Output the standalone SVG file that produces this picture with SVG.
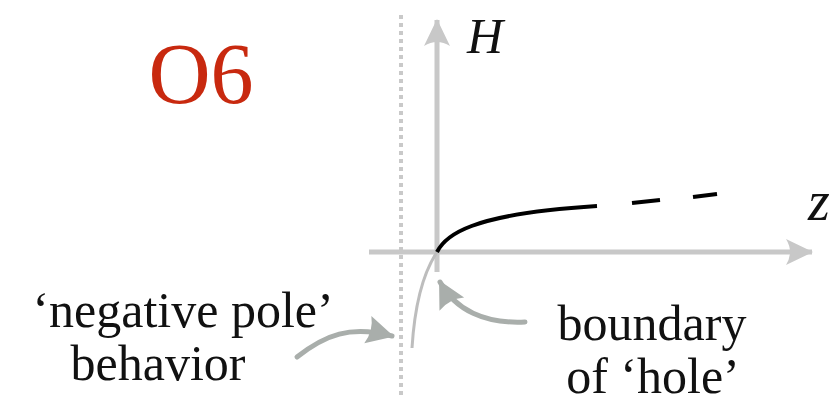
<svg xmlns="http://www.w3.org/2000/svg" width="837" height="403" viewBox="0 0 837 403">
<style>
.txt{font-family:"Liberation Serif","Times New Roman",serif;fill:#111}
.ax{stroke:#c8c8c8;stroke-width:5;fill:none}
.lbl{stroke:#a9aeab;stroke-width:5;fill:none;stroke-linecap:round}
</style>
<defs>
<marker id="axhead" markerUnits="userSpaceOnUse" markerWidth="40" markerHeight="40" refX="0" refY="0" orient="auto" overflow="visible">
<path d="M1,0 L-26,-13 Q-18,0 -26,13 Z" fill="#c8c8c8"/>
</marker>
<marker id="lhead" markerUnits="userSpaceOnUse" markerWidth="40" markerHeight="40" refX="0" refY="0" orient="auto" overflow="visible">
<path d="M2,0 L-25,-14 Q-19,0 -25,14 Z" fill="#a9aeab"/>
</marker>
</defs>
<g id="title"><text class="txt" x="201" y="103" font-size="86" text-anchor="middle" style="fill:#c8290f">O6</text></g>
<g id="axes">
<line x1="401" y1="15" x2="401" y2="395" stroke="#c9c9c9" stroke-width="4" stroke-dasharray="4 4"/>
<line class="ax" x1="437" y1="272" x2="437" y2="20" marker-end="url(#axhead)"/>
<line class="ax" x1="369" y1="252" x2="812" y2="252" marker-end="url(#axhead)"/>
<text class="txt" x="467" y="53" font-size="50" font-style="italic">H</text>
<text class="txt" x="808" y="220" font-size="56" font-style="italic">z</text>
</g>
<g id="curves">
<path d="M437,252 C425,270 415,300 412,348" stroke="#bdbdbd" stroke-width="3" fill="none"/>
<path d="M437,252 C445,236 468,214 597,206" stroke="#000" stroke-width="4" fill="none"/>
<line x1="632" y1="203" x2="660" y2="200" stroke="#000" stroke-width="4"/>
<line x1="693" y1="197" x2="717" y2="194" stroke="#000" stroke-width="4"/>
</g>
<g id="connectors">
<path class="lbl" d="M525,322 C485,324 455,310 440,282" marker-end="url(#lhead)"/>
<path class="lbl" d="M297,357 C325,335 350,325 392,336" marker-end="url(#lhead)"/>
</g>
<g id="label-negative">
<text class="txt" x="183" y="327" font-size="50" text-anchor="middle">‘negative pole’</text>
<text class="txt" x="158" y="380" font-size="50" text-anchor="middle">behavior</text>
</g>
<g id="label-boundary">
<text class="txt" x="652" y="340" font-size="50" text-anchor="middle">boundary</text>
<text class="txt" x="653" y="393" font-size="50" text-anchor="middle">of ‘hole’</text>
</g>
</svg>
